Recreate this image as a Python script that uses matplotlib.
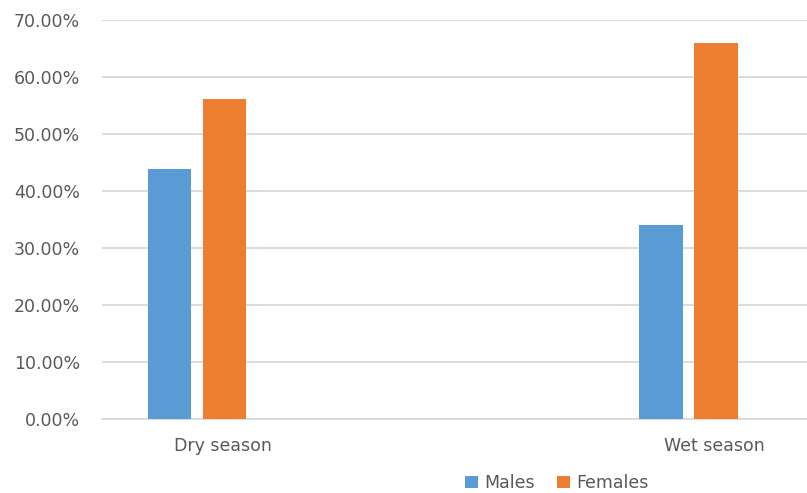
import matplotlib
matplotlib.use("Agg")
import matplotlib.pyplot as plt
import numpy as np
from matplotlib.ticker import FuncFormatter

categories = ["Dry season", "Wet season"]
males = [43.9, 34.0]
females = [56.1, 66.0]
series_names = ["Males", "Females"]
yticks = [0, 10, 20, 30, 40, 50, 60, 70]

plt.rcParams['font.family'] = ['DejaVu Sans']
W, H = 807, 493
fig = plt.figure(figsize=(W/100, H/100), dpi=100)
ax = fig.add_axes([102/W, 1-419/H, (807-102)/W, (419-20)/H])

x = np.arange(len(categories))
bw = 0.088
off = 0.056
c_m = "#5b9bd5"
c_f = "#ed7d31"
ax.bar(x - off, males, bw, color=c_m, label=series_names[0], zorder=3)
ax.bar(x + off, females, bw, color=c_f, label=series_names[1], zorder=3)

ax.set_xlim(-0.193, 1.241)
ax.set_ylim(0, 70)
ax.set_yticks(yticks)
ax.yaxis.set_major_formatter(FuncFormatter(lambda v, p: f"{v:.2f}%"))
ax.set_xticks(x + 0.052)
ax.set_xticklabels(categories)
ax.tick_params(axis='both', length=0, colors="#595959", labelsize=12.5)
ax.tick_params(axis='x', pad=13)
ax.tick_params(axis='y', pad=16)
ax.grid(axis='y', color="#d9d9d9", linewidth=1.3, zorder=0)
for s in ["top", "right", "left"]:
    ax.spines[s].set_visible(False)
ax.spines["bottom"].set_color("#d9d9d9")
ax.spines["bottom"].set_linewidth(1.3)

fig.legend(loc='center', bbox_to_anchor=(557/W, 1-483/H), ncol=2, frameon=False,
           fontsize=12.5, labelcolor="#595959", handlelength=0.75, handleheight=0.75,
           handletextpad=0.35, columnspacing=1.3)

fig.savefig("out.png", dpi=100, facecolor="white")
